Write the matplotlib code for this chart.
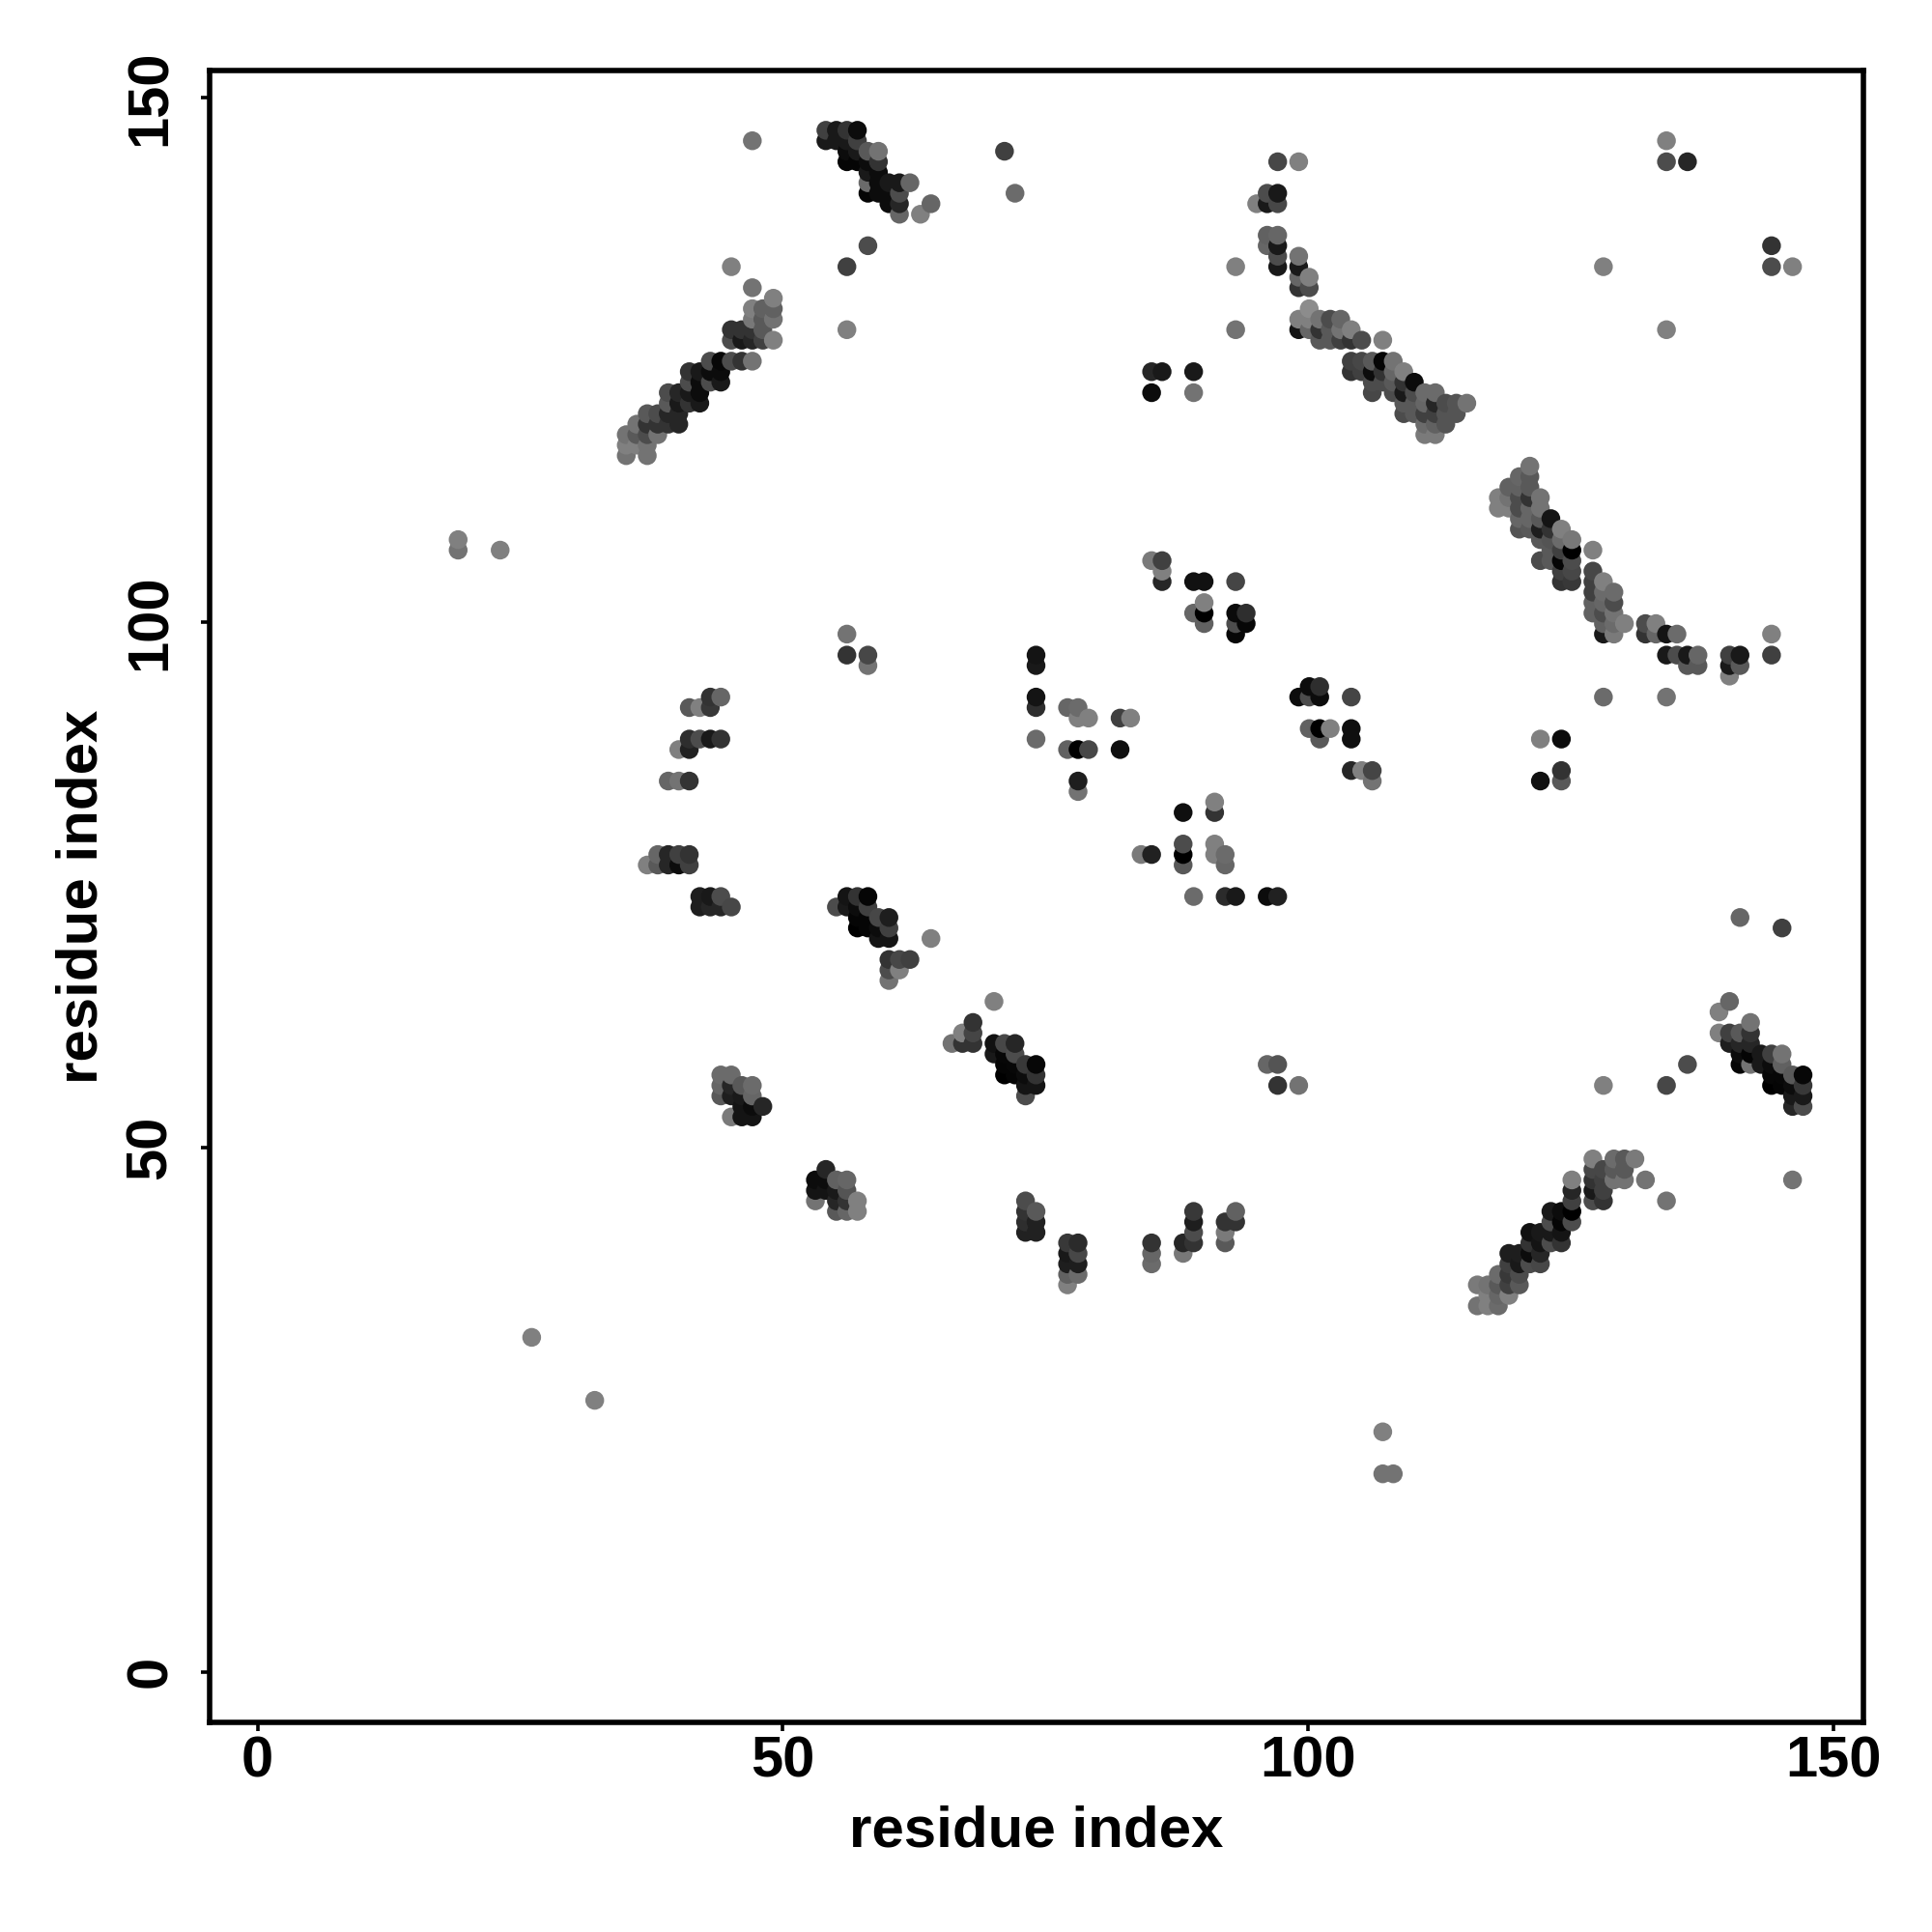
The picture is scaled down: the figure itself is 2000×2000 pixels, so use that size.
import matplotlib
matplotlib.use("Agg")
import matplotlib.pyplot as plt
from matplotlib.transforms import Affine2D
import numpy as np

# contacts as (residue i, residue j, grey level)
band_top = [
    (54,147,.25),(55,147,.1),(56,147,.2),(57,147,.05),(54,146,.1),(55,146,.1),(56,146,.1),(57,146,.25),
    (56,145,.05),(57,145,.1),(58,145,.35),(59,145,.45),(56,144,.02),(57,144,.02),(58,144,.05),(59,144,.2),
    (58,143,.1),(59,143,.05),(58,142,.42),(59,142,.05),(60,142,.1),(61,142,.1),(62,142,.4),
    (58,141,.02),(59,141,.05),(60,141,.05),(61,141,.3),(60,140,.05),(61,140,.15),(64,140,.4),
    (61,139,.4),(63,139,.5),(58,136,.3),(56,134,.25),(56,128,.5),(45,134,.5),(47,132,.45),(47,146,.45),
    (71,145,.25),(72,141,.42),
]
band_left = [
    (49,131,.5),(47,130,.5),(48,130,.38),(49,130,.38),(47,129,.47),(48,129,.35),(49,129,.45),
    (45,128,.2),(46,128,.2),(47,128,.2),(48,128,.35),(45,127,.3),(46,127,.1),(47,127,.15),(48,127,.25),(49,127,.5),
    (43,125,.3),(44,125,.03),(45,125,.3),(46,125,.2),(47,125,.45),(41,124,.2),(42,124,.1),(43,124,.05),(44,124,.05),
    (41,123,.3),(42,123,.05),(43,123,.3),(44,123,.1),(39,122,.3),(40,122,.15),(41,122,.1),(42,122,.05),
    (39,121,.35),(40,121,.1),(41,121,.2),(42,121,.1),(37,120,.35),(38,120,.3),(39,120,.15),(40,120,.15),
    (36,119,.45),(37,119,.2),(38,119,.2),(39,119,.2),(40,119,.15),(35,118,.45),(36,118,.35),(37,118,.3),(38,118,.45),
    (35,117,.5),(36,117,.5),(37,117,.45),(35,116,.45),(37,116,.45),
]
band_right = [
    (97,144,.28),(99,144,.5),(96,141,.3),(97,141,.1),(95,140,.5),(96,140,.1),(97,140,.28),
    (96,137,.38),(97,137,.4),(96,136,.4),(97,136,.1),(97,135,.3),(99,135,.45),(97,134,.1),(99,134,.1),
    (93,134,.5),(93,128,.45),(100,133,.5),(99,133,.4),(99,132,.2),(100,132,.3),(100,130,.55),
    (99,129,.5),(100,129,.5),(101,129,.45),(102,129,.3),(103,129,.4),
    (99,128,.08),(100,128,.4),(101,128,.2),(102,128,.35),(103,128,.45),(104,128,.5),
    (101,127,.35),(102,127,.35),(103,127,.25),(104,127,.2),(105,127,.3),(107,127,.5),
    (104,125,.25),(105,125,.28),(106,125,.35),(107,125,.02),(108,125,.45),
    (104,124,.2),(105,124,.25),(106,124,.05),(107,124,.2),(108,124,.4),(109,124,.5),
    (106,123,.3),(107,123,.3),(108,123,.35),(109,123,.2),(110,123,.05),
    (106,122,.28),(108,122,.3),(109,122,.1),(110,122,.3),(111,122,.42),(112,122,.42),
    (109,121,.35),(110,121,.35),(111,121,.4),(112,121,.15),(113,121,.3),(114,121,.33),(115,121,.45),
    (109,120,.3),(110,120,.35),(111,120,.25),(112,120,.25),(113,120,.33),(114,120,.33),
    (111,119,.42),(112,119,.38),(113,119,.33),(111,118,.48),(112,118,.48),
]
band_middle = [
    (121,115,.45),(120,114,.4),(121,114,.35),(119,113,.38),(120,113,.38),(121,113,.35),
    (118,112,.5),(119,112,.45),(120,112,.3),(121,112,.2),(122,112,.45),
    (118,111,.5),(119,111,.5),(120,111,.3),(121,111,.4),(122,111,.45),
    (120,110,.4),(121,110,.4),(122,110,.35),(123,110,.08),
    (120,109,.33),(121,109,.35),(122,109,.12),(123,109,.2),(124,109,.5),
    (122,108,.35),(123,108,.33),(124,108,.42),(125,108,.47),
    (123,107,.35),(124,107,.25),(125,107,.0),(127,107,.5),
    (122,106,.3),(123,106,.35),(124,106,.02),(125,106,.3),
    (124,105,.25),(125,105,.28),(127,105,.28),(124,104,.2),(125,104,.22),(127,104,.25),(128,104,.5),
    (127,103,.25),(128,103,.42),(129,103,.42),(127,102,.38),(128,102,.4),(129,102,.3),
    (127,101,.38),(128,101,.3),(129,101,.45),(128,100,.38),(129,100,.42),(130,100,.5),(132,100,.3),(133,100,.5),
    (128,99,.1),(129,99,.48),(132,99,.2),(133,99,.4),(134,99,.08),(135,99,.42),(144,99,.5),
    (134,97,.1),(135,97,.3),(136,97,.1),(137,97,.4),(140,97,.25),(141,97,.1),(144,97,.25),
    (136,96,.35),(137,96,.35),(140,96,.1),(141,96,.35),(140,95,.5),(128,93,.42),(134,93,.45),
]
center_left = [
    (43,93,.2),(44,93,.4),(41,92,.35),(42,92,.5),(43,92,.22),(41,89,.18),(42,89,.3),(43,89,.1),(44,89,.2),
    (40,88,.5),(41,88,.13),(39,85,.4),(40,85,.45),(41,85,.2),(38,78,.4),(39,78,.15),(40,78,.25),(41,78,.2),
    (37,77,.5),(38,77,.35),(39,77,.15),(40,77,.05),(41,77,.25),(42,74,.12),(43,74,.1),(44,74,.3),
    (42,73,.12),(43,73,.15),(44,73,.15),(45,73,.28),
    (74,97,.08),(74,96,.1),(74,93,.08),(74,92,.18),(74,89,.42),(77,92,.4),(78,92,.42),(78,91,.5),(79,91,.5),
    (77,88,.38),(78,88,.0),(79,88,.28),(78,85,.12),(78,84,.45),(56,99,.45),(56,97,.2),(58,97,.28),(58,96,.45),
]
center_band = [
    (56,74,.08),(57,74,.2),(58,74,.02),(55,73,.3),(56,73,.1),(57,73,.05),(58,73,.25),
    (57,72,.02),(58,72,.02),(59,72,.28),(60,72,.12),(57,71,.0),(58,71,.02),(59,71,.05),(60,71,.25),
    (59,70,.08),(60,70,.08),(64,70,.5),(60,68,.2),(61,68,.28),(62,68,.25),(60,67,.3),(61,67,.5),(60,66,.45),
    (70,64,.5),(68,62,.2),(67,61,.5),(68,61,.27),(66,60,.45),(67,60,.2),(68,60,.2),
    (70,60,.07),(71,60,.28),(72,60,.15),(70,59,.1),(71,59,.03),(72,59,.3),
    (71,58,.02),(72,58,.03),(73,58,.22),(74,58,.03),(71,57,.0),(72,57,.02),(73,57,.05),(74,57,.2),
    (73,56,.08),(74,56,.08),(73,55,.3),
]
center_right = [
    (85,106,.48),(86,106,.25),(86,105,.5),(86,104,.15),(89,104,.07),(90,104,.07),(93,104,.27),(90,102,.5),
    (89,101,.4),(90,101,.0),(93,101,.04),(94,101,.18),(90,100,.38),(93,100,.3),(94,100,.03),(93,99,.03),
    (82,91,.25),(83,91,.5),(82,88,.06),(100,94,.05),(101,94,.18),(99,93,.05),(100,93,.3),(101,93,.05),(104,93,.27),
    (100,90,.38),(101,90,.0),(102,90,.5),(104,90,.06),(101,89,.35),(104,89,.06),
    (104,86,.15),(105,86,.5),(106,86,.27),(106,85,.45),(122,89,.5),(124,89,.05),(122,85,.07),(124,86,.2),(124,85,.35),
    (88,82,.06),(91,83,.5),(91,82,.2),(84,78,.48),(85,78,.13),(88,79,.3),(88,78,.0),(88,77,.35),
    (91,79,.5),(91,78,.5),(92,78,.42),(92,77,.4),(89,74,.42),(92,74,.17),(93,74,.1),(96,74,.05),(97,74,.13),
    (96,58,.4),(97,58,.33),(97,56,.2),(99,56,.45),(85,124,.15),(86,124,.1),(89,124,.1),(85,122,.05),(89,122,.45),
]
lower_arc = [
    (44,57,.42),(45,57,.42),(44,56,.4),(45,56,.15),(46,56,.35),(47,56,.42),(44,55,.35),(45,55,.12),(46,55,.1),(47,55,.4),
    (46,54,.08),(47,54,.05),(48,54,.15),(45,53,.48),(46,53,.08),(47,53,.08),
    (54,48,.15),(53,47,.05),(54,47,.05),(55,47,.38),(56,47,.4),(53,46,.08),(54,46,.08),(55,46,.1),(56,46,.33),
    (53,45,.45),(55,45,.15),(56,45,.2),(57,45,.5),(55,44,.35),(56,44,.4),(57,44,.5),
    (73,45,.3),(73,44,.2),(73,43,.18),(73,42,.13),(74,44,.35),(74,43,.13),(74,42,.13),
    (77,41,.22),(77,40,.1),(77,39,.12),(77,38,.38),(77,37,.5),(78,41,.17),(78,40,.28),(78,39,.12),(78,38,.42),
    (85,41,.2),(85,40,.4),(85,39,.42),(88,41,.15),(88,40,.47),(89,44,.22),(89,43,.12),(89,42,.3),(89,41,.2),
    (92,43,.2),(92,42,.48),(92,41,.35),(93,44,.38),(93,43,.2),
]
band_bottom = [
    (127,49,.5),(129,49,.42),(130,49,.35),(131,49,.48),(127,48,.28),(128,48,.28),(129,48,.35),(130,48,.35),
    (125,47,.5),(127,47,.2),(128,47,.25),(129,47,.45),(130,47,.45),(132,47,.45),(125,46,.15),(127,46,.1),(128,46,.25),
    (125,45,.25),(127,45,.3),(128,45,.2),(134,45,.45),(123,44,.1),(124,44,.05),(125,44,.0),(123,43,.3),(124,43,.02),(125,43,.3),
    (121,42,.07),(122,42,.1),(123,42,.1),(124,42,.08),(121,41,.2),(122,41,.08),(123,41,.3),(124,41,.2),
    (119,40,.12),(120,40,.12),(121,40,.05),(122,40,.15),(119,39,.25),(120,39,.1),(121,39,.3),(122,39,.28),
    (118,38,.42),(119,38,.22),(120,38,.3),(116,37,.48),(117,37,.45),(118,37,.35),(119,37,.25),(120,37,.35),
    (117,36,.5),(118,36,.4),(119,36,.5),(116,35,.45),(117,35,.5),(118,35,.42),
]
band_corner = [
    (140,64,.4),(139,63,.5),(142,62,.45),(139,61,.5),(140,61,.25),(141,61,.35),(142,61,.2),
    (140,60,.12),(141,60,.15),(142,60,.15),(141,59,.05),(142,59,.02),(143,59,.1),(144,59,.25),(145,59,.45),
    (141,58,.02),(142,58,.45),(143,58,.1),(144,58,.05),(145,58,.38),(144,57,.03),(145,57,.03),(146,57,.35),(147,57,.03),
    (144,56,.0),(145,56,.02),(146,56,.05),(147,56,.22),(146,55,.1),(147,55,.1),(146,54,.15),(147,54,.3),
    (136,58,.3),(134,56,.28),
]
isolated = [
    (19,108,.5),(19,107,.45),(23,107,.5),(26,32,.5),(32,26,.5),(107,23,.5),(107,19,.45),(108,19,.45),
    (134,146,.5),(134,144,.3),(136,144,.15),(128,134,.5),(134,128,.5),(144,136,.2),(144,134,.3),(146,134,.5),
    (141,72,.4),(145,71,.25),(146,47,.45),(128,56,.5),
]

contacts = np.array(band_top + band_left + band_right + band_middle + center_left + center_band
                    + center_right + lower_arc + band_bottom + band_corner + isolated)
# later residues are drawn over earlier ones
contacts = contacts[np.lexsort((contacts[:, 1], contacts[:, 0]))]

font = {'family': 'Liberation Sans', 'weight': 'bold'}

fig = plt.figure(figsize=(10, 10), dpi=200)
ax = fig.add_axes([217/2000, 1-1783/2000, (1928.6-217)/2000, (1783-72.7)/2000])

# marks sit a pixel off the ticks in the original
nudge = Affine2D().translate(1, -1.3)
ax.scatter(contacts[:, 0], contacts[:, 1], c=contacts[:, 2], cmap='gray', vmin=0, vmax=1, s=49, linewidths=0,
           transform=ax.transData + nudge)

ax.set_xlim(-4.56, 152.8)
ax.set_ylim(-4.8, 152.6)
ax.set_xticks([0, 50, 100, 150])
ax.set_yticks([0, 50, 100, 150])
ax.tick_params(length=3.4, width=1.3)
ax.tick_params(axis='x', pad=1.5)
ax.tick_params(axis='y', pad=8.5)
ax.set_xticklabels(['0', '50', '100', '150'], fontsize=21.5, **font)
ax.set_yticklabels(['0', '50', '100', '150'], fontsize=21.5, rotation=90, va='center', **font)
ax.set_xlabel('residue index', fontsize=21.6, labelpad=6, **font)
ax.set_ylabel('residue index', fontsize=21.6, labelpad=6, **font)
for spine in ax.spines.values():
    spine.set_linewidth(2.0)

plt.savefig('out.png', dpi=200)
